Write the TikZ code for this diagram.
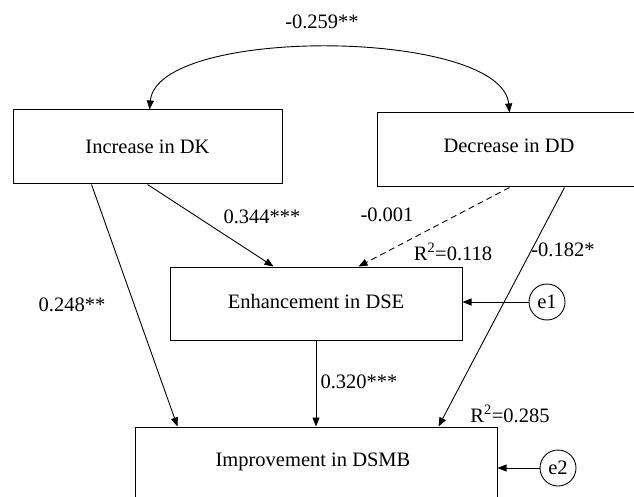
\documentclass[tikz,border=0pt]{standalone}
\usepackage{fontspec}
\setmainfont{Liberation Serif}
\usetikzlibrary{arrows.meta,calc}
\begin{document}
\begin{tikzpicture}[x=1pt,y=-1pt,
  font=\fontsize{20.5}{24}\selectfont,
  box/.style={draw,line width=1pt,inner sep=0pt,minimum width=#1},
  errc/.style={draw,circle,line width=0.9pt,inner sep=0pt,minimum size=36pt},
  conn/.style={line width=0.9pt,-{Triangle[length=9pt,width=7pt]}},
  lab/.style={inner sep=0pt,anchor=center}]
\useasboundingbox (0,0) rectangle (634,497);
\clip (0,0) rectangle (634,497);
\node[box=269pt,minimum height=74pt] (dk) at (147.5,147) {Increase in DK};
\node[box=263pt,minimum height=74pt] (dd) at (508.5,150) {};
\node[lab] (ddt) at (509,146) {Decrease in DD};
\node[box=292pt,minimum height=73pt] (dse) at (316,303.5) {};
\node[lab] (dset) at (316,301) {Enhancement in DSE};
\node[box=362pt,minimum height=80pt] (dsmb) at (316,467) {};
\node[lab] (dsmbt) at (313,462) {Improvement in DSMB};
\node[errc] (e1) at (547,302) {e1};
\node[errc] (e2) at (558,468) {e2};
% connectors
\draw[line width=0.9pt,{Triangle[length=9pt,width=7pt]}-{Triangle[length=9pt,width=7pt]}]
  ($(dk.north west)+(137,0)$) .. controls +(8,-84) and +(-8,-84) .. ($(dd.north west)+(133,0)$);
\draw[conn] ($(dk.south west)+(135,0)$) -- ($(dse.north west)+(104,0)$);
\draw[conn] ($(dk.south west)+(79,0)$) -- ($(dsmb.north west)+(43,0)$);
\draw[conn,dash pattern=on 6pt off 4pt] ($(dd.south west)+(133,0)$) -- ($(dse.north west)+(189,0)$);
\draw[conn] ($(dd.south west)+(188,0)$) -- ($(dsmb.north west)+(304,0)$);
\draw[conn] (dse.south) -- (dsmb.north);
\draw[conn] (e1.west) -- (e1.west -| dse.east);
\draw[conn] (e2.west) -- (e2.west -| dsmb.east);
% labels
\node[lab] (l1) at (322,22) {-0.259**};
\node[lab] (l2) at (262,217) {0.344***};
\node[lab] (l3) at (387,215) {-0.001};
\node[lab] (l4) at (453,252) {R\textsuperscript{2}=0.118};
\node[lab] (l5) at (563,250) {-0.182*};
\node[lab] (l6) at (72,305) {0.248**};
\node[lab] (l7) at (359,382) {0.320***};
\node[lab] (l8) at (510,414) {R\textsuperscript{2}=0.285};
\end{tikzpicture}
\end{document}
